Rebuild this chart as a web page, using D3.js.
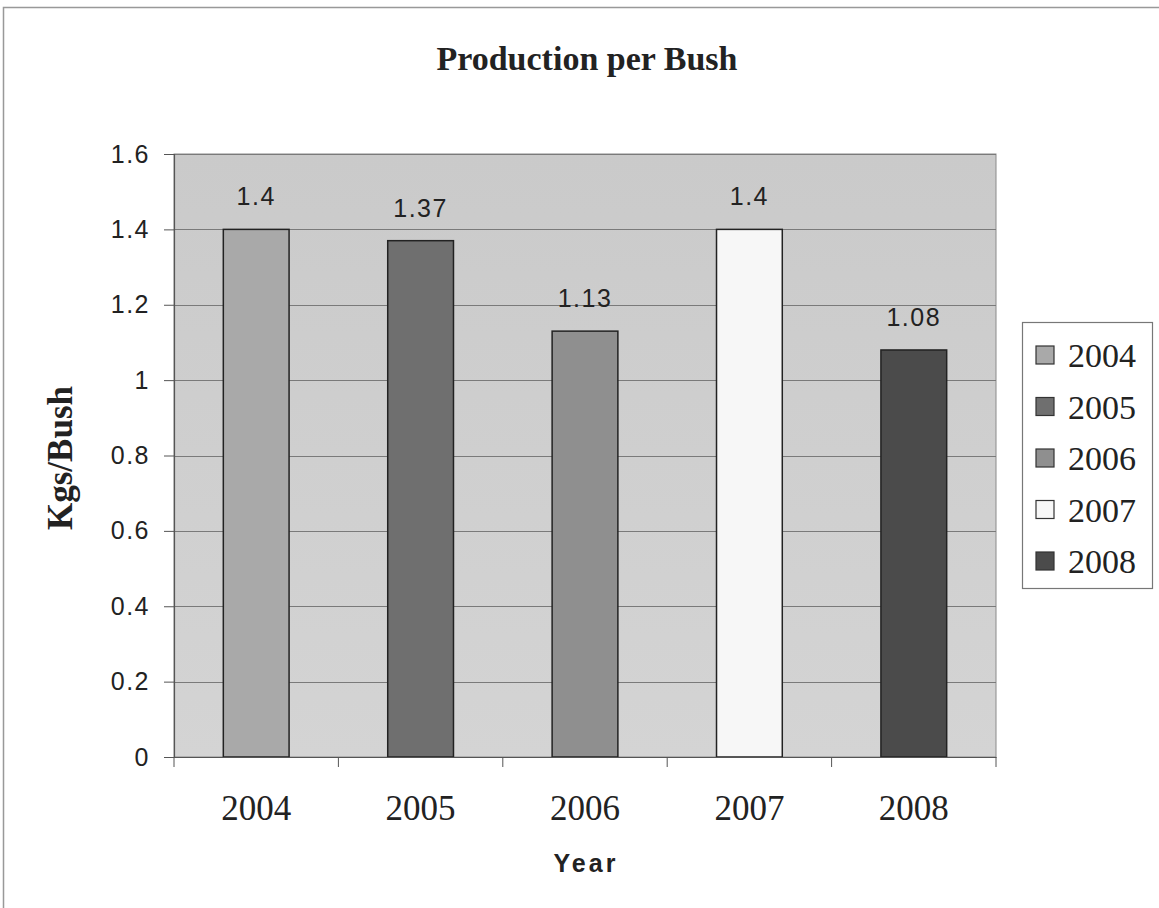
<!DOCTYPE html>
<html><head><meta charset="utf-8">
<script src="https://cdn.jsdelivr.net/npm/d3@7"></script>
<style>body{margin:0;background:#fff}svg{display:block}</style>
</head><body>
<script>
const categories = ["2004","2005","2006","2007","2008"];
const values = [1.4, 1.37, 1.13, 1.4, 1.08];
const labels = ["1.4","1.37","1.13","1.4","1.08"];
const yTicks = [0,0.2,0.4,0.6,0.8,1,1.2,1.4,1.6];
const yTickLabels = ["0","0.2","0.4","0.6","0.8","1","1.2","1.4","1.6"];
const colors = ["#a9a9a9","#6f6f6f","#8f8f8f","#f7f7f7","#4b4b4b"];

const W=1159,H=908;
const svg=d3.select("body").append("svg").attr("width",W).attr("height",H);
svg.append("rect").attr("x",3.5).attr("y",7.5).attr("width",W+10).attr("height",H+10)
  .attr("fill","#fff").attr("stroke","#999").attr("stroke-width",1.5);

const L=174,R=996,T=154,B=757;
const x=d3.scaleBand().domain(categories).range([L,R]).paddingInner(0.6).paddingOuter(0.3);
const xb=d3.scaleBand().domain(categories).range([L,R]);
const y=d3.scaleLinear().domain([0,1.6]).range([B,T]);

const defs=svg.append("defs");
const gr=defs.append("linearGradient").attr("id","bg").attr("x1",0).attr("y1",0).attr("x2",0).attr("y2",1);
gr.append("stop").attr("offset","0").attr("stop-color","#cacaca");
gr.append("stop").attr("offset","1").attr("stop-color","#d4d4d4");

svg.append("rect").attr("x",L).attr("y",T).attr("width",R-L).attr("height",B-T)
  .attr("fill","url(#bg)").attr("stroke","#8a8a8a").attr("stroke-width",1);

svg.append("g").selectAll("line").data(yTicks.slice(1)).join("line")
  .attr("x1",L).attr("x2",R).attr("y1",d=>Math.round(y(d))+0.5).attr("y2",d=>Math.round(y(d))+0.5)
  .attr("stroke","#7a7a7a").attr("stroke-width",1);

svg.append("g").selectAll("rect").data(values).join("rect")
  .attr("x",(d,i)=>x(categories[i])).attr("width",x.bandwidth())
  .attr("y",d=>y(d)).attr("height",d=>B-y(d))
  .attr("fill",(d,i)=>colors[i]).attr("stroke","#222").attr("stroke-width",1.5);

svg.append("g").selectAll("text").data(values).join("text")
  .attr("x",(d,i)=>x(categories[i])+x.bandwidth()/2).attr("y",d=>y(d)-24)
  .attr("text-anchor","middle").attr("font-family","Liberation Sans, Arial").attr("font-size",25)
  .attr("letter-spacing",1.5).attr("fill","#222").text((d,i)=>labels[i]);

const ya=svg.append("g").attr("transform",`translate(${L},0)`)
  .call(d3.axisLeft(y).tickValues(yTicks).tickFormat((d,i)=>yTickLabels[i]).tickSize(10).tickPadding(14));
ya.select(".domain").attr("stroke","#555").attr("stroke-width",1.2);
ya.selectAll(".tick line").attr("stroke","#555");
ya.selectAll("text").attr("font-family","Liberation Sans, Arial").attr("font-size",25)
  .attr("letter-spacing",1.5).attr("fill","#222");

const xa=svg.append("g").attr("transform",`translate(0,${B})`)
  .call(d3.axisBottom(xb).tickSize(0).tickPadding(38));
xa.select(".domain").attr("stroke","#555").attr("stroke-width",1.2);
xa.selectAll("text").attr("font-family","Liberation Serif, Times New Roman").attr("font-size",35).attr("fill","#222");
xa.selectAll(".bt").data(d3.range(categories.length+1)).join("line")
  .attr("x1",i=>L+i*xb.step()).attr("x2",i=>L+i*xb.step()).attr("y1",0).attr("y2",10)
  .attr("stroke","#555");

svg.append("text").attr("x",587).attr("y",70).attr("text-anchor","middle")
  .attr("font-family","Liberation Serif, Times New Roman").attr("font-weight","bold").attr("font-size",34)
  .attr("fill","#222").text("Production per Bush");
svg.append("text").attr("x",586).attr("y",872).attr("text-anchor","middle")
  .attr("font-family","Liberation Sans, Arial").attr("font-weight","bold").attr("font-size",25)
  .attr("letter-spacing",3).attr("fill","#222").text("Year");
svg.append("text").attr("transform","translate(72,458) rotate(-90)").attr("text-anchor","middle")
  .attr("font-family","Liberation Serif, Times New Roman").attr("font-weight","bold").attr("font-size",35)
  .attr("fill","#222").text("Kgs/Bush");

const lg=svg.append("g");
lg.append("rect").attr("x",1022.5).attr("y",322.5).attr("width",130).attr("height",266)
  .attr("fill","#fff").attr("stroke","#777").attr("stroke-width",1.2);
const items=lg.selectAll("g.it").data(categories).join("g").attr("class","it")
  .attr("transform",(d,i)=>`translate(1036,${355+i*51.5})`);
items.append("rect").attr("x",0).attr("y",-9).attr("width",18).attr("height",18)
  .attr("fill",(d,i)=>colors[i]).attr("stroke","#333").attr("stroke-width",1.2);
items.append("text").attr("x",32).attr("y",12).attr("font-family","Liberation Serif, Times New Roman")
  .attr("font-size",34).attr("fill","#222").text(d=>d);
</script>
</body></html>
